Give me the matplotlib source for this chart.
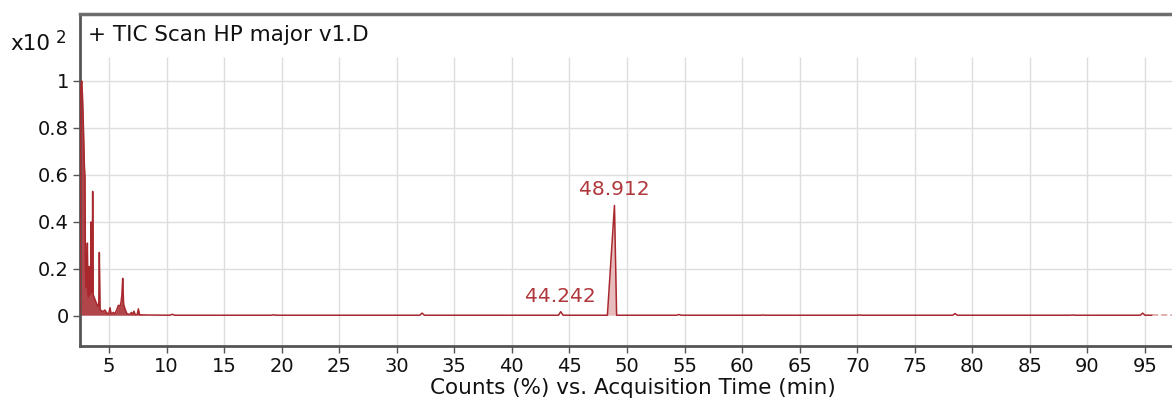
import matplotlib
matplotlib.use("Agg")
import matplotlib.pyplot as plt
import numpy as np

# Chromatogram trace: acquisition time (min) and counts (x10^2 %)
times = [2.48, 2.55, 2.63, 2.70, 2.78, 2.86, 2.91, 2.95, 3.00, 3.06, 3.12, 3.17,
         3.22, 3.28, 3.34, 3.40, 3.44, 3.49, 3.54, 3.58, 3.63, 3.70, 3.78, 3.86,
         3.95, 4.05, 4.11, 4.16, 4.22, 4.35, 4.50, 4.65, 4.80, 4.98, 5.09, 5.18,
         5.38, 5.50, 5.70, 5.81, 5.95, 6.05, 6.12, 6.19, 6.27, 6.39, 6.55, 6.80,
         6.95, 7.05, 7.17, 7.28, 7.45, 7.55, 7.65, 8.20,
         10.3, 10.5, 10.7, 19.1, 19.3, 19.5, 32.0, 32.2, 32.4,
         44.05, 44.242, 44.45, 48.30, 48.912, 49.10,
         54.3, 54.5, 54.7, 61.6, 61.8, 62.0, 70.0, 70.2, 70.4,
         78.3, 78.5, 78.7, 88.5, 88.7, 88.9, 94.6, 94.8, 95.0, 95.6]
counts = [0.01, 0.97, 1.00, 0.93, 0.80, 0.64, 0.59, 0.22, 0.12, 0.16, 0.31, 0.10,
          0.08, 0.21, 0.09, 0.13, 0.40, 0.11, 0.10, 0.53, 0.09, 0.08, 0.07, 0.06,
          0.05, 0.04, 0.05, 0.27, 0.03, 0.02, 0.02, 0.025, 0.012, 0.010, 0.035, 0.008,
          0.015, 0.007, 0.03, 0.045, 0.04, 0.06, 0.09, 0.16, 0.05, 0.03, 0.01, 0.006,
          0.015, 0.005, 0.02, 0.005, 0.006, 0.03, 0.005, 0.004,
          0.003, 0.007, 0.003, 0.003, 0.005, 0.003, 0.003, 0.012, 0.003,
          0.003, 0.018, 0.003, 0.003, 0.47, 0.003,
          0.003, 0.006, 0.003, 0.003, 0.004, 0.003, 0.003, 0.004, 0.003,
          0.003, 0.010, 0.003, 0.003, 0.004, 0.003, 0.003, 0.012, 0.003, 0.003]
# faint tail of the trace at the end of the run
tail_times = [95.6, 97.4]
tail_counts = [0.003, 0.003]

peak_labels = ["44.242", "48.912"]
peak_times = [44.242, 48.912]
peak_label_y = [0.082, 0.536]

x_ticks = list(range(5, 100, 5))
y_ticks = [0, 0.2, 0.4, 0.6, 0.8, 1]
y_tick_labels = ["0", "0.2", "0.4", "0.6", "0.8", "1"]

line_c = "#a8282e"
text_c = "#b0383c"

t = np.array(times)
c = np.array(counts)

fig = plt.figure(figsize=(11.72, 4.0), dpi=100)
ax = fig.add_axes([80 / 1172, 54 / 400, 1 - 80 / 1172, 332 / 400])
ax.set_xlim(2.48, 97.35)
ax.set_ylim(-0.128, 1.285)

# grid: horizontal full width, vertical stops below the title band
for yv in y_ticks[1:]:
    ax.axhline(yv, color="#dedede", lw=1.0, zorder=0)
ax.vlines(x_ticks, -0.128, 1.10, color="#dedede", lw=1.0, zorder=0)

# early cluster of co-eluting peaks
early = t <= 8.2
ax.fill_between(t[early], 0.003, c[early], color="#a3262a", alpha=0.85, lw=0, zorder=2)
# main peak area
pk = (t >= 48.30) & (t <= 49.10)
ax.fill_between(t[pk], 0.003, c[pk], color="#e8bcbc", lw=0, zorder=2)
ax.plot(t, c, color=line_c, lw=1.1, zorder=3)
ax.plot(tail_times, tail_counts, color="#d89a9a", lw=1.1, ls=(0, (4, 2)), zorder=3)

for lab, px, py in zip(peak_labels, peak_times, peak_label_y):
    ax.text(px, py, lab, color=text_c, fontsize=14.5, ha="center", va="center", zorder=4)

ax.set_xticks(x_ticks)
ax.set_yticks(y_ticks)
ax.set_yticklabels(y_tick_labels)
ax.tick_params(axis="both", direction="out", length=5, width=1.0, color="#555555",
               labelsize=14, labelcolor="#111111", pad=3)

for side in ("left", "bottom"):
    ax.spines[side].set_color("#555555")
    ax.spines[side].set_linewidth(2.0)
ax.spines["top"].set_color("#6e6e6e")
ax.spines["top"].set_linewidth(2.5)
ax.spines["right"].set_visible(False)

ax.text(0.0075, 0.937, "+ TIC Scan HP major v1.D", transform=ax.transAxes,
        fontsize=15.5, ha="left", va="center", color="#111111")
fig.text(10 / 1172, 1 - 44 / 400, "x10", fontsize=15.5, ha="left", va="center", color="#111111")
fig.text(56 / 1172, 1 - 38 / 400, "2", fontsize=12, ha="left", va="center", color="#111111")
fig.text(633 / 1172, 1 - 388 / 400, "Counts (%) vs. Acquisition Time (min)",
         fontsize=15.5, ha="center", va="center", color="#111111")

fig.savefig("out.png", dpi=100)
